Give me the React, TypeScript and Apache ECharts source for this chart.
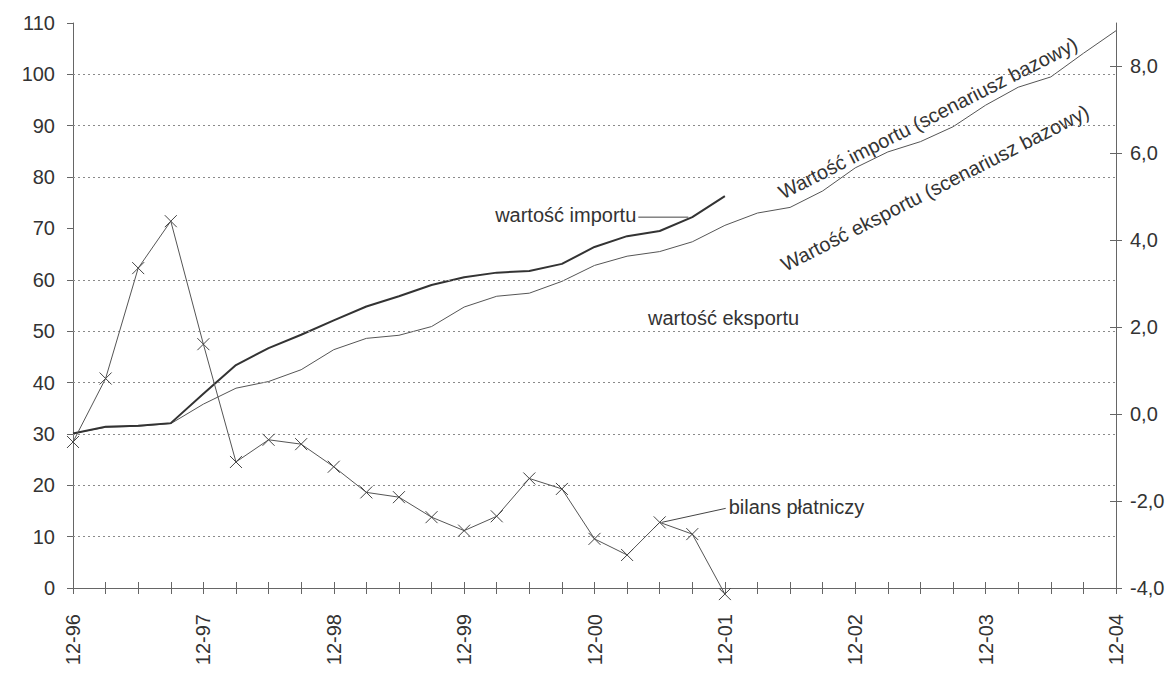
import { useEffect, useRef } from "react";
import * as echarts from "echarts";

// Quarter-end dates, Dec 1996 – Dec 2004
const quarters = [
  "12-96",
  "03-97", "06-97", "09-97", "12-97",
  "03-98", "06-98", "09-98", "12-98",
  "03-99", "06-99", "09-99", "12-99",
  "03-00", "06-00", "09-00", "12-00",
  "03-01", "06-01", "09-01", "12-01",
  "03-02", "06-02", "09-02", "12-02",
  "03-03", "06-03", "09-03", "12-03",
  "03-04", "06-04", "09-04", "12-04",
];

// Import value (left axis), actual data up to Dec 2001
const importValue = [
  30.1, 31.4, 31.6, 32.1, 37.8, 43.4, 46.7, 49.3, 52.1, 54.8, 56.8,
  59.0, 60.5, 61.4, 61.7, 63.1, 66.4, 68.5, 69.5, 72.2, 76.3,
];

// Export value (left axis), continued by the base scenario to Dec 2004
const exportValue = [
  30.1, 31.3, 31.5, 32.0, 35.8, 38.9, 40.2, 42.5, 46.4, 48.6, 49.2,
  50.9, 54.7, 56.8, 57.4, 59.7, 62.8, 64.6, 65.5, 67.4, 70.6, 73.0,
  74.1, 77.3, 81.8, 84.9, 86.9, 89.8, 94.0, 97.5, 99.5, 104.1, 108.5,
];

// Balance of payments (right axis)
const balance = [
  -0.64, 0.82, 3.36, 4.44, 1.61, -1.1, -0.59, -0.69, -1.21, -1.8, -1.91,
  -2.37, -2.68, -2.35, -1.48, -1.72, -2.87, -3.24, -2.49, -2.76, -4.14,
];

const gridValues = [10, 20, 30, 40, 50, 60, 80, 90, 100];
const rightTicks = [-4, -2, 0, 2, 4, 6, 8];

const FONT = "'Liberation Sans', Arial, sans-serif";
const TEXT = "#333";
const AXIS = "#666";

export default function App() {
  const ref = useRef<HTMLDivElement>(null);

  useEffect(() => {
    document.body.style.margin = "0";
    const el = ref.current!;
    const chart = echarts.init(el, null, { renderer: "svg" });

    const axisLabelBase = { color: TEXT, fontSize: 20, fontFamily: FONT };

    chart.setOption({
      animation: false,
      backgroundColor: "#fff",
      grid: { left: 73, right: 60, top: 23, bottom: 85, containLabel: false },
      xAxis: [
        {
          type: "category",
          data: quarters,
          boundaryGap: false,
          axisLine: { onZero: false, lineStyle: { color: AXIS, width: 1 } },
          axisTick: { interval: 0, length: 6, lineStyle: { color: AXIS } },
          axisLabel: {
            ...axisLabelBase,
            interval: 3,
            rotate: 90,
            margin: 26,
          },
          splitLine: { show: false },
        },
        {
          type: "category",
          data: quarters,
          boundaryGap: false,
          position: "bottom",
          axisLine: { show: false, onZero: false },
          axisTick: { interval: 0, inside: true, length: 6, lineStyle: { color: AXIS } },
          axisLabel: { show: false },
          splitLine: { show: false },
        },
      ],
      yAxis: [
        {
          type: "value",
          min: 0,
          max: 110,
          interval: 10,
          position: "left",
          axisLine: { show: true, lineStyle: { color: AXIS, width: 1 } },
          axisTick: { show: true, length: 6, lineStyle: { color: AXIS } },
          axisLabel: { ...axisLabelBase, margin: 18 },
          splitLine: { show: false },
        },
        {
          type: "value",
          min: -4,
          max: 9,
          interval: 2,
          position: "right",
          axisLine: { show: true, lineStyle: { color: AXIS, width: 1 } },
          axisTick: { show: true, length: 6, customValues: rightTicks, lineStyle: { color: AXIS } },
          axisLabel: {
            ...axisLabelBase,
            margin: 14,
            customValues: rightTicks,
            formatter: (v: number) => v.toFixed(1).replace(".", ","),
          },
          splitLine: { show: false },
        },
        {
          type: "value",
          min: -4,
          max: 9,
          interval: 2,
          position: "right",
          axisLine: { show: false },
          axisTick: { show: true, inside: true, length: 6, customValues: rightTicks, lineStyle: { color: AXIS } },
          axisLabel: { show: false },
          splitLine: { show: false },
        },
      ],
      series: [
        {
          name: "wartość eksportu",
          type: "line",
          data: exportValue,
          yAxisIndex: 0,
          symbol: "none",
          lineStyle: { color: "#555", width: 1 },
          markLine: {
            silent: true,
            symbol: "none",
            label: { show: false },
            lineStyle: { color: "#8a8a8a", width: 1, type: [2, 3] },
            data: gridValues.map((v) => ({ yAxis: v })),
          },
          z: 3,
        },
        {
          name: "wartość importu",
          type: "line",
          data: importValue,
          yAxisIndex: 0,
          symbol: "none",
          lineStyle: { color: "#333", width: 2 },
          z: 4,
        },
        {
          name: "bilans płatniczy",
          type: "line",
          data: balance,
          yAxisIndex: 1,
          clip: false,
          symbol: "path://M0 0L10 10M10 0L0 10",
          symbolSize: 12,
          itemStyle: { color: "transparent", borderColor: "#444", borderWidth: 1 },
          lineStyle: { color: "#555", width: 1 },
          z: 5,
        },
      ],
    });

    // Annotations anchored on the series they describe
    const imp = chart.convertToPixel({ xAxisIndex: 0, yAxisIndex: 0 }, [19, importValue[19]]) as number[];
    const bal = chart.convertToPixel({ xAxisIndex: 0, yAxisIndex: 1 }, [18, balance[18]]) as number[];
    const textStyle = { fill: TEXT, fontSize: 20, fontFamily: FONT };
    const rot = (27 * Math.PI) / 180;

    chart.setOption({
      graphic: [
        {
          type: "text",
          x: imp[0] - 56,
          y: imp[1] - 2,
          style: { ...textStyle, text: "wartość importu", align: "right", verticalAlign: "middle" },
        },
        {
          type: "line",
          shape: { x1: imp[0] - 54, y1: imp[1], x2: imp[0] - 4, y2: imp[1] },
          style: { stroke: "#444", lineWidth: 1 },
        },
        {
          type: "text",
          x: 648,
          y: 318,
          style: { ...textStyle, text: "wartość eksportu", align: "left", verticalAlign: "middle" },
        },
        {
          type: "line",
          shape: { x1: bal[0] + 2, y1: bal[1], x2: bal[0] + 66, y2: bal[1] - 14 },
          style: { stroke: "#444", lineWidth: 1 },
        },
        {
          type: "text",
          x: bal[0] + 69,
          y: bal[1] - 15,
          style: { ...textStyle, text: "bilans płatniczy", align: "left", verticalAlign: "middle" },
        },
        {
          type: "text",
          x: 928,
          y: 118,
          rotation: rot,
          style: { ...textStyle, text: "Wartość importu (scenariusz bazowy)", align: "center", verticalAlign: "middle" },
        },
        {
          type: "text",
          x: 935,
          y: 188,
          rotation: rot,
          style: { ...textStyle, text: "Wartość eksportu (scenariusz bazowy)", align: "center", verticalAlign: "middle" },
        },
      ],
    });

    return () => chart.dispose();
  }, []);

  return <div ref={ref} style={{ width: 1176, height: 673 }} />;
}
